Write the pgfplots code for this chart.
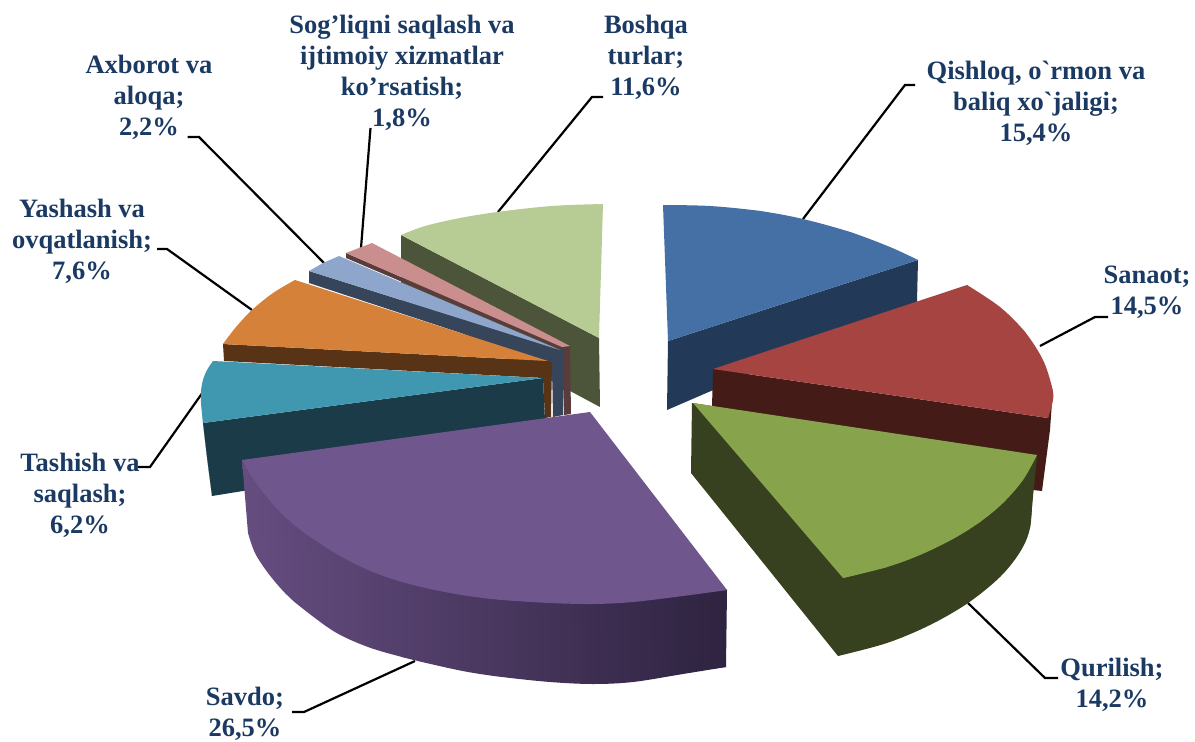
\documentclass[border=0pt]{standalone}
\usepackage{pgfplots}
\pgfplotsset{compat=1.18}
\usepackage{fontspec}
\setmainfont{Liberation Serif}
\newfontfamily\labf{Liberation Serif}
\definecolor{navy}{HTML}{1B3A63}
\definecolor{bT}{HTML}{4470A5}\definecolor{bS}{HTML}{223A58}
\definecolor{rT}{HTML}{A64442}\definecolor{rS}{HTML}{451B18}
\definecolor{gT}{HTML}{87A44D}\definecolor{gS}{HTML}{37411F}
\definecolor{pT}{HTML}{6F568C}\definecolor{pL}{HTML}{654D80}\definecolor{pM}{HTML}{4A3860}\definecolor{pR}{HTML}{2E2340}
\definecolor{tT}{HTML}{4097B0}\definecolor{tS}{HTML}{1A3B47}
\definecolor{oT}{HTML}{D6813A}\definecolor{oS}{HTML}{593315}
\definecolor{lT}{HTML}{8FA6CC}\definecolor{lS}{HTML}{37455A}
\definecolor{kT}{HTML}{CB8E8E}\definecolor{kS}{HTML}{5A3C3C}
\definecolor{eT}{HTML}{B7CB94}\definecolor{eS}{HTML}{4C5539}
\tikzset{lab/.style={font=\labf\fontsize{26.5}{31}\selectfont\bfseries,text=navy,align=center,anchor=center,inner sep=0pt},
 ld/.style={black,line width=2.2pt,line join=miter},
 sm/.style={draw=none,smooth,tension=0.55}}
\begin{document}
\begin{tikzpicture}
\begin{axis}[hide axis,scale only axis,width=1195pt,height=742pt,
  xmin=0,xmax=1195,ymin=0,ymax=742,y dir=reverse,clip=false]
% leaders
\addplot[ld] coordinates {(603,97)(592,97)(498,212)};
\addplot[ld] coordinates {(370.5,128)(361,248)};
\addplot[ld] coordinates {(187.5,137)(199,137)(324,263)};
\addplot[ld] coordinates {(157,249)(167,249)(252,310)};
\addplot[ld] coordinates {(138,467)(150,467)(203,392)};
\addplot[ld] coordinates {(292,712)(304,712)(415,661)};
\addplot[ld] coordinates {(968,603)(1045,678)(1058,678)};
\addplot[ld] coordinates {(1040,346)(1095,317)(1108,317)};
\addplot[ld] coordinates {(803,219)(905,85)(915,85)};
% Boshqa turlar
\addplot[fill=eS,draw=none] coordinates {(401,235)(599,338)(600,407)(572,392)(401,300)};
\addplot[fill=eT,draw=none] coordinates {(401,235)(497,213)(603,204)(599,338)};
\addplot[fill=eT,sm] coordinates {(401,235)(425,226)(460,218)(497,212)(540,207)(570,205)(603,204)};
% Sog'liqni
\addplot[fill=kS,draw=none] coordinates {(346,253)(562,347)(570,346)(571,414)(564,415)(562,350)(346,258)};
\addplot[fill=kT,draw=none] coordinates {(346,253)(359,248)(372,243)(570,346)(562,347)};
% Axborot
\addplot[fill=lS,draw=none] coordinates {(309,271)(560,350)(563,347)(563,415)(553,417)(552,363)(309,283)};
\addplot[fill=lT,draw=none] coordinates {(309,271)(323,263)(339,256)(560,350)};
% Yashash
\addplot[fill=oS,draw=none] coordinates {(223,344)(548,361)(552,362)(551,417)(545,418)(543,378)(224,361)};
\addplot[fill=oT,draw=none] coordinates {(223,344)(252,310)(295,280)(548,361)};
\addplot[fill=oT,sm] coordinates {(223,344)(236,327)(252,310)(273,293)(295,280)};
% Tashish
\addplot[fill=tS,draw=none] coordinates {(203,423)(543,378)(545,420)(300,480)(243,491)(212,496)(207,457)};
\addplot[fill=tS,sm] coordinates {(203,423)(207,457)(212,496)};
\addplot[fill=tT,draw=none] coordinates {(213,361)(201,391)(203,423)(543,378)};
\addplot[fill=tT,sm] coordinates {(213,361)(207,370)(203,380)(201,391)(201,403)(203,423)};
% Savdo
\addplot[left color=pL,right color=pR,middle color=pM,draw=none] coordinates {(242,460)(727,590)(726,667)(593,684)(402,657)(248,533)};
\addplot[left color=pL,right color=pR,middle color=pM,sm] coordinates {(248,533)(255,553)(268,573)(285,593)(302,608)(335,632)(368,647)(402,657)(435,665)(468,672)(502,677)(550,682)(593,684)(633,682)(683,674)(726,667)};
\addplot[fill=pT,draw=none] coordinates {(242,460)(590,412)(727,590)(593,604)(402,582)(302,531)};
\addplot[fill=pT,sm] coordinates {(242,460)(250,474)(262,491)(280,512)(302,531)(335,553)(368,570)(402,582)(435,590)(468,596)(502,600)(550,603)(593,604)(633,602)(683,596)(727,590)};
% Qishloq
\addplot[fill=bS,draw=none] coordinates {(668,341)(918,260)(917,302)(667,410)};
\addplot[fill=bT,draw=none] coordinates {(663,205)(760,211)(850,232)(918,260)(668,341)};
\addplot[fill=bT,sm] coordinates {(663,205)(710,206)(760,211)(803,219)(850,232)(890,247)(918,260)};
% Sanaot
\addplot[fill=rS,draw=none] coordinates {(713,369)(1048,418)(1053,388)(1050,430)(1042,491)(1033,490)(712,407)};
\addplot[fill=rT,draw=none] coordinates {(713,369)(967,285)(1025,332)(1052,387)(1048,418)};
\addplot[fill=rT,sm] coordinates {(967,285)(1000,307)(1025,332)(1043,360)(1052,387)(1053,400)(1048,418)};
% Qurilish
\addplot[fill=gS,draw=none] coordinates {(692,403)(691,473)(838,656)(968,603)(1030,528)(1037,455)};
\addplot[fill=gS,sm] coordinates {(838,656)(887,643)(930,625)(968,603)(1000,577)(1020,552)(1030,528)(1033,490)(1037,455)};
\addplot[fill=gT,draw=none] coordinates {(693,403)(1037,455)(980,522)(887,567)(843,578)};
\addplot[fill=gT,sm] coordinates {(1037,455)(1023,480)(1003,503)(980,522)(953,539)(920,555)(887,567)(843,578)};
% labels
\node[lab] at (axis cs:402,73) {Sog’liqni saqlash va\\ijtimoiy xizmatlar\\ko’rsatish;\\1,8\%};
\node[lab] at (axis cs:646,57) {Boshqa\\turlar;\\11,6\%};
\node[lab] at (axis cs:149,97) {Axborot va\\aloqa;\\2,2\%};
\node[lab] at (axis cs:82,241) {Yashash va\\ovqatlanish;\\7,6\%};
\node[lab] at (axis cs:1036,103) {Qishloq, o`rmon va\\baliq xo`jaligi;\\15,4\%};
\node[lab] at (axis cs:1147,292) {Sanaot;\\14,5\%};
\node[lab] at (axis cs:1112,685) {Qurilish;\\14,2\%};
\node[lab] at (axis cs:245,714) {Savdo;\\26,5\%};
\node[lab] at (axis cs:80,495) {Tashish va\\saqlash;\\6,2\%};
\end{axis}
\pgfresetboundingbox
\useasboundingbox (current axis.south west) rectangle (current axis.north east);
\end{tikzpicture}
\end{document}
